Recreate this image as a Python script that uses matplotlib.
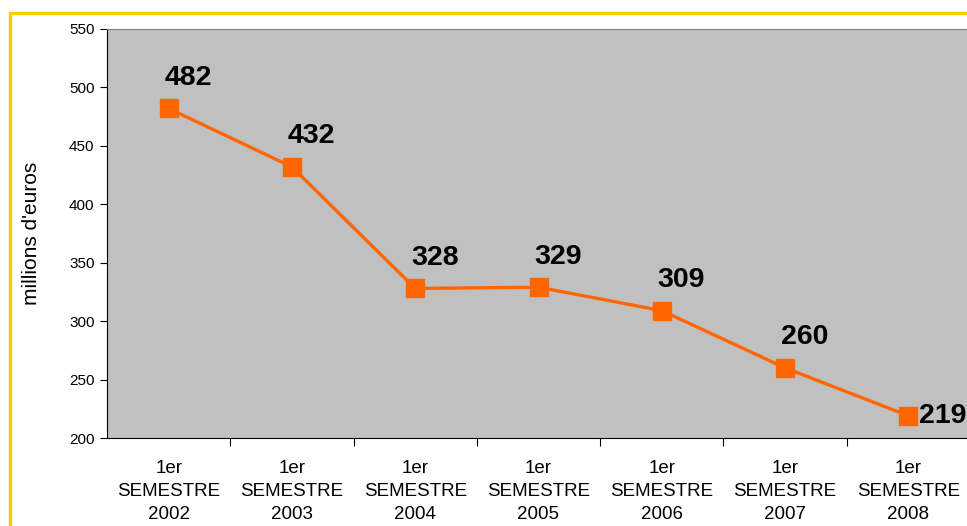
import matplotlib.pyplot as plt
from matplotlib.patches import Rectangle

plt.rcParams['font.family'] = ['Liberation Sans', 'DejaVu Sans']

years = ['2002', '2003', '2004', '2005', '2006', '2007', '2008']
values = [482, 432, 328, 329, 309, 260, 219]
labels = ['1er\nSEMESTRE\n' + y for y in years]
yticks = [200, 250, 300, 350, 400, 450, 500, 550]

fig = plt.figure(figsize=(9.67, 5.26), dpi=100)

# yellow frame (cut off on right and bottom like the original)
fig.patches.append(Rectangle((9.5 / 967, -0.1), 1.2, 1 - 12.5 / 526 + 0.1,
                             transform=fig.transFigure, fill=False,
                             edgecolor='#FFCC00', linewidth=2.4, zorder=0))

ax = fig.add_axes([107 / 967, 1 - 438 / 526, 863 / 967, (438 - 29) / 526])
ax.set_facecolor('#C0C0C0')

x = list(range(len(values)))
ax.plot(x, values, color='#FF6600', linewidth=2.4, marker='s',
        markersize=13, markerfacecolor='#FF6600', markeredgecolor='#FF6600',
        clip_on=False, zorder=3)

for i, v in enumerate(values):
    if i == len(values) - 1:
        ax.annotate(str(v), (i, v), xytext=(8, 0), textcoords='offset points',
                    ha='left', va='center', fontsize=20.5, fontweight='bold',
                    annotation_clip=False)
    else:
        ax.annotate(str(v), (i, v), xytext=(14, 17), textcoords='offset points',
                    ha='center', va='baseline', fontsize=20.5, fontweight='bold')

ax.set_xlim(-0.5, len(values) - 0.5)
ax.set_ylim(200, 550)
ax.set_yticks(yticks)
ax.tick_params(axis='y', labelsize=11, length=5, direction='out', pad=4)

ax.set_xticks([i + 0.5 for i in range(len(values))])
ax.set_xticklabels([])
ax.set_xticks(x, minor=True)
ax.set_xticklabels(labels, minor=True, fontsize=13.5, linespacing=1.45)
ax.tick_params(axis='x', which='major', length=6, direction='out')
ax.tick_params(axis='x', which='minor', length=0, pad=16)

ax.spines['top'].set_color('#808080')
ax.spines['right'].set_visible(False)
ax.spines['left'].set_color('black')
ax.spines['bottom'].set_color('black')

ax.set_ylabel("millions d'euros", fontsize=15, labelpad=20)

fig.savefig('out.png', dpi=100)
